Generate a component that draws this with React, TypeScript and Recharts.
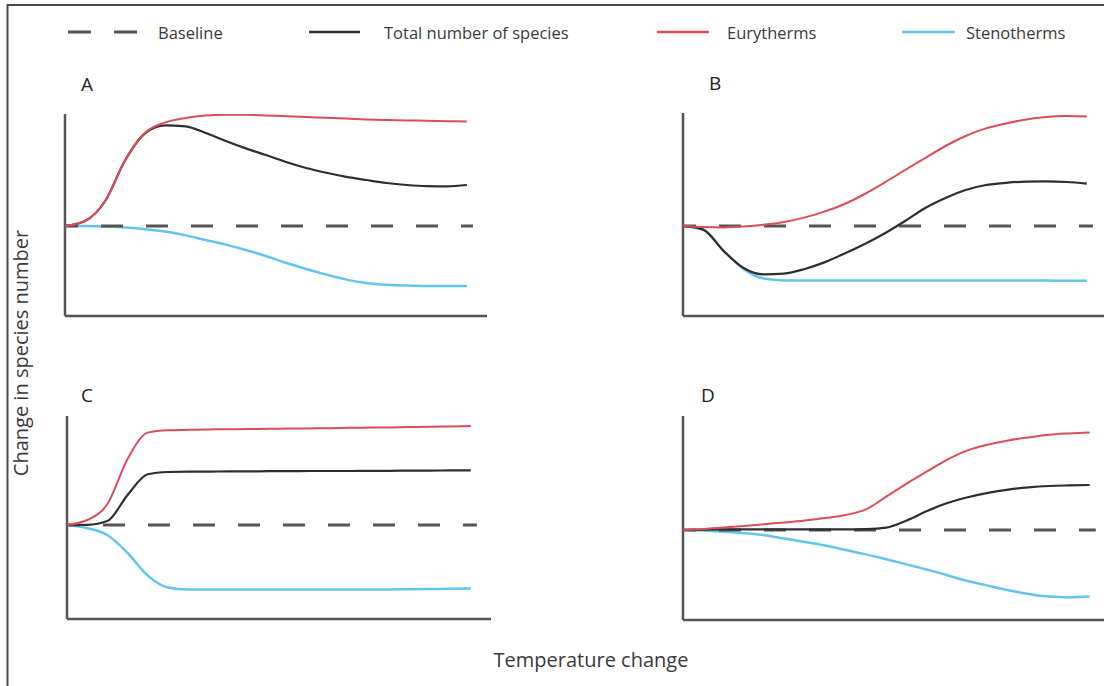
import React from 'react';
import {Line, LineChart, ReferenceLine, XAxis, YAxis} from 'recharts';

// temperature steps (x) shared by every curve
const TEMP = [0, 5, 10, 15, 20, 25, 30, 35, 40, 45, 50, 55, 60, 65, 70, 75, 80, 85, 90, 95, 100];

// dashed baseline runs a little past the curves
const BASELINE_T = [0, 101.5];
const BASELINE = [0, 0];

// A
const A_TOTAL = [0, 2.5, 12.5, 33, 46.5, 50.3, 49.8, 46.5, 42.5, 38.8, 35.5, 32, 29, 26.6, 24.6, 23, 21.5, 20.5, 19.9, 19.8, 20.5];
const A_EURY = [0, 2.5, 12.5, 33, 46.7, 51.8, 54, 55.2, 55.6, 55.6, 55.3, 54.9, 54.5, 54.1, 53.7, 53.3, 53, 52.8, 52.6, 52.4, 52.3];
const A_STENO = [0, 0, -0.3, -0.8, -1.6, -2.8, -4.7, -7, -9.3, -12, -15, -18.4, -21.5, -24.3, -26.8, -28.5, -29.4, -29.8, -30, -30, -30];

// B
const B_TOTAL = [0, -1.8, -12.3, -21, -24.2, -23.8, -21.6, -18.2, -13.8, -9, -3.6, 2.5, 9, 14, 18, 20.5, 21.6, 22.2, 22.3, 22, 21.2];
const B_EURY = [0, -0.5, -0.7, -0.3, 0.6, 2, 4.2, 7.2, 11, 16, 21.8, 28, 34, 40, 45, 48.8, 51.3, 53.3, 54.5, 55, 54.7];
const B_STENO = [0, -1.8, -12.3, -21.5, -26.3, -27.2, -27.2, -27.2, -27.2, -27.2, -27.2, -27.2, -27.2, -27.2, -27.2, -27.2, -27.3, -27.3, -27.3, -27.4, -27.4];

// C
const C_TOTAL = [0, 0.1, 2, 15, 25.4, 26.5, 26.7, 26.7, 26.8, 26.8, 26.9, 26.9, 27, 27, 27, 27.1, 27.1, 27.2, 27.2, 27.3, 27.3];
const C_EURY = [0, 2.5, 10.5, 33, 46.2, 47.4, 47.6, 47.8, 47.9, 48, 48.1, 48.2, 48.3, 48.4, 48.6, 48.7, 48.8, 49, 49.1, 49.3, 49.5];
const C_STENO = [0, -1.6, -5, -14, -25.3, -31.2, -32.2, -32.2, -32.2, -32.2, -32.2, -32.2, -32.2, -32.2, -32.2, -32.2, -32.2, -32.1, -32, -31.9, -31.7];

// D
const D_TOTAL = [0, 0.2, 0.3, 0.3, 0.3, 0.3, 0.3, 0.3, 0.3, 0.4, 1.2, 4.8, 9.5, 13.5, 16.4, 18.6, 20.2, 21.3, 22, 22.3, 22.5];
const D_EURY = [0, 0.5, 1.2, 2, 2.9, 3.8, 4.8, 6, 7.5, 10.3, 16.7, 23.2, 29.3, 35.2, 39.8, 42.7, 44.8, 46.3, 47.6, 48.3, 48.8];
const D_STENO = [0, -0.3, -0.9, -1.6, -2.6, -4.3, -6, -7.8, -10, -12.2, -14.6, -17.2, -19.8, -22.6, -25.5, -27.8, -30.1, -32, -33.3, -33.7, -33.3];

const SERIES_NAMES = ['Baseline', 'Total number of species', 'Eurytherms', 'Stenotherms'];
const X_LABEL = 'Temperature change';
const Y_LABEL = 'Change in species number';

const RED = '#dc4d5a';
const BLUE = '#63c4ee';
const BLACK = '#2e2e2e';
const GREY = '#555';
const TEXT = '#3a3a3a';
const FONT = '"Open Sans", "Noto Sans", sans-serif';

const PAD = 6;
const X_MAX = 105;

const PANELS = [
    {label: 'A', total: A_TOTAL, eury: A_EURY, steno: A_STENO, x: 65, y: 113.7, w: 422, h: 202, domain: [-45, 56], lx: 81, ly: 91},
    {label: 'B', total: B_TOTAL, eury: B_EURY, steno: B_STENO, x: 682.7, y: 112.7, w: 424, h: 203, domain: [-45, 56.5], lx: 709, ly: 90},
    {label: 'C', total: C_TOTAL, eury: C_EURY, steno: C_STENO, x: 67.3, y: 416, w: 424, h: 203, domain: [-47, 54.5], lx: 81, ly: 402},
    {label: 'D', total: D_TOTAL, eury: D_EURY, steno: D_STENO, x: 683.3, y: 416, w: 427, h: 204, domain: [-45, 57], lx: 701, ly: 402},
];

const LEGEND = [
    {name: SERIES_NAMES[0], color: GREY, dash: '23 23', x1: 68, x2: 137, tx: 158},
    {name: SERIES_NAMES[1], color: BLACK, dash: undefined, x1: 309, x2: 360, tx: 384},
    {name: SERIES_NAMES[2], color: RED, dash: undefined, x1: 657, x2: 709, tx: 727},
    {name: SERIES_NAMES[3], color: BLUE, dash: undefined, x1: 902, x2: 955, tx: 966},
];

const Panel = ({p}: {p: typeof PANELS[number]}) => {
    const rows = TEMP.map((t, i) => ({t, total: p.total[i], eury: p.eury[i], steno: p.steno[i]}));
    const base = BASELINE_T.map((t, i) => ({t, base: BASELINE[i]}));

    return (
        <div style={{position: 'absolute', left: p.x - PAD, top: p.y - PAD}}>
            <LineChart width={p.w + 2 * PAD} height={p.h + 2 * PAD} data={rows}
                       margin={{top: PAD, right: PAD, bottom: PAD, left: PAD}}>
                <XAxis type="number" dataKey="t" domain={[0, X_MAX]} allowDataOverflow hide/>
                <YAxis type="number" domain={p.domain} allowDataOverflow hide/>
                {/* axis lines */}
                <ReferenceLine x={0} stroke={GREY} strokeWidth={2.5} ifOverflow="visible"/>
                <ReferenceLine y={p.domain[0]} stroke={GREY} strokeWidth={2.5} ifOverflow="visible"/>
                <Line dataKey="steno" type="monotone" stroke={BLUE} strokeWidth={2.5}
                      dot={false} activeDot={false} isAnimationActive={false}/>
                <Line data={base} dataKey="base" type="linear" stroke={GREY} strokeWidth={3}
                      strokeDasharray="22 23" strokeDashoffset={9}
                      dot={false} activeDot={false} isAnimationActive={false}/>
                <Line dataKey="total" type="monotone" stroke={BLACK} strokeWidth={2.2}
                      dot={false} activeDot={false} isAnimationActive={false}/>
                <Line dataKey="eury" type="monotone" stroke={RED} strokeWidth={2}
                      dot={false} activeDot={false} isAnimationActive={false}/>
            </LineChart>
        </div>
    );
};

export default function App() {
    return (
        <div style={{position: 'absolute', left: 0, top: 0, width: 1104, height: 686, overflow: 'hidden', background: '#fff'}}>
            <svg width={1104} height={686} style={{position: 'absolute', left: 0, top: 0}} fontFamily={FONT}>
                <line x1={7.5} y1={5} x2={1104} y2={5} stroke="#4a4a4a" strokeWidth={2}/>
                <line x1={7.5} y1={4} x2={7.5} y2={686} stroke="#4a4a4a" strokeWidth={2}/>

                {LEGEND.map((l) => (
                    <g key={l.name}>
                        <line x1={l.x1} y1={32} x2={l.x2} y2={32} stroke={l.color}
                              strokeWidth={l.dash ? 3 : 2.5} strokeDasharray={l.dash}/>
                        <text x={l.tx} y={39} fontSize={16.5} fill={TEXT}>{l.name}</text>
                    </g>
                ))}

                {PANELS.map((p) => (
                    <text key={p.label} x={p.lx} y={p.ly} fontSize={19} fill="#222">{p.label}</text>
                ))}

                <text x={591} y={667} fontSize={20} fill={TEXT} textAnchor="middle">{X_LABEL}</text>
                <text x={28} y={353} fontSize={20} fill={TEXT} textAnchor="middle"
                      transform="rotate(-90 28 353)">{Y_LABEL}</text>
            </svg>
            {PANELS.map((p) => <Panel key={p.label} p={p}/>)}
        </div>
    );
}
